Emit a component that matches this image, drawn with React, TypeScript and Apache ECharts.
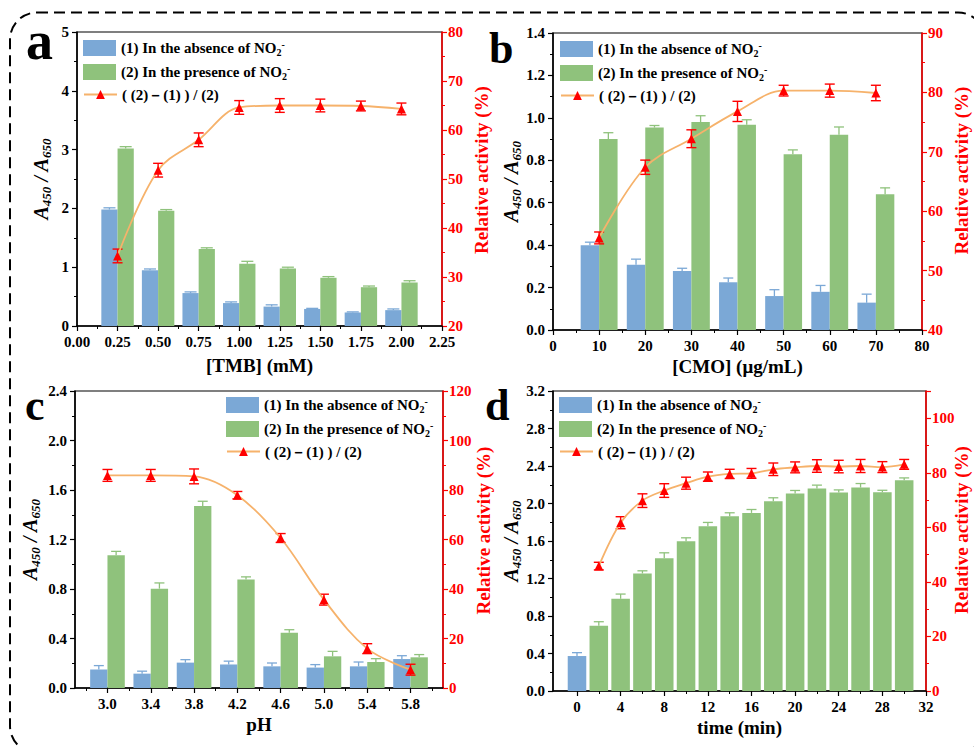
import React, { useEffect, useRef } from 'react';
import * as echarts from 'echarts';

const SERIF = '"Liberation Serif", "Times New Roman", serif';
const BLUE = '#7ba8d6';
const GREEN = '#8fc27c';
const RED = '#ff0000';
const ORANGE = '#f6b26b';

const NAME_ABS = '(1) In the absence of NO2-';
const NAME_PRE = '(2) In the presence of NO2-';
const NAME_RATIO = '( (2)－(1) ) / (2)';

// ---- Panel a: TMB ----
const tmbX = [0.25, 0.5, 0.75, 1.0, 1.25, 1.5, 1.75, 2.0];
const tmbAbsence = [1.98, 0.95, 0.56, 0.39, 0.33, 0.29, 0.23, 0.27];
const tmbAbsenceErr = [0.03, 0.02, 0.02, 0.02, 0.03, 0.01, 0.01, 0.02];
const tmbPresence = [3.02, 1.96, 1.31, 1.06, 0.98, 0.82, 0.66, 0.74];
const tmbPresenceErr = [0.03, 0.02, 0.02, 0.04, 0.02, 0.02, 0.02, 0.03];
const tmbActivity = [34.3, 51.8, 58.0, 64.6, 65.0, 65.0, 64.9, 64.3];
const tmbActivityErr = [1.4, 1.4, 1.4, 1.4, 1.4, 1.3, 1.0, 1.2];

// ---- Panel b: CMO ----
const cmoX = [10, 20, 30, 40, 50, 60, 70];
const cmoAbsence = [0.4, 0.307, 0.278, 0.225, 0.16, 0.18, 0.129];
const cmoAbsenceErr = [0.014, 0.027, 0.013, 0.02, 0.03, 0.03, 0.04];
const cmoPresence = [0.9, 0.954, 0.98, 0.967, 0.829, 0.92, 0.64];
const cmoPresenceErr = [0.03, 0.01, 0.03, 0.024, 0.02, 0.037, 0.03];
const cmoActivity = [55.5, 67.4, 72.2, 76.8, 80.3, 80.3, 79.9];
const cmoActivityErr = [1.0, 1.2, 1.5, 1.7, 0.9, 1.1, 1.3];

// ---- Panel c: pH ----
const phX = [3.0, 3.4, 3.8, 4.2, 4.6, 5.0, 5.4, 5.8];
const phTicks = [3.0, 3.4, 3.8, 4.2, 4.6, 5.0, 5.4, 5.8];
const phMinorTicks = [2.8, 3.2, 3.6, 4.0, 4.4, 4.8, 5.2, 5.6, 6.0];
const phAbsence = [0.149, 0.116, 0.205, 0.19, 0.175, 0.165, 0.175, 0.234];
const phAbsenceErr = [0.032, 0.02, 0.024, 0.027, 0.027, 0.024, 0.035, 0.027];
const phPresence = [1.072, 0.803, 1.471, 0.876, 0.447, 0.256, 0.21, 0.248];
const phPresenceErr = [0.032, 0.046, 0.038, 0.022, 0.024, 0.04, 0.027, 0.022];
const phActivity = [85.9, 85.9, 85.5, 77.9, 60.6, 35.7, 15.9, 7.4];
const phActivityErr = [2.4, 2.4, 3.0, 1.5, 1.8, 2.2, 2.0, 2.2];

// ---- Panel d: time ----
const timeTicks = [0, 4, 8, 12, 16, 20, 24, 28, 32];
const timeMinorTicks = [2, 6, 10, 14, 18, 22, 26, 30];
const timeAbsX = [0];
const timeAbsence = [0.373];
const timeAbsenceErr = [0.036];
const timeX = [2, 4, 6, 8, 10, 12, 14, 16, 18, 20, 22, 24, 26, 28, 30];
const timePresence = [0.696, 0.984, 1.254, 1.417, 1.598, 1.758, 1.865, 1.9, 2.025, 2.107, 2.16, 2.117, 2.17, 2.12, 2.248];
const timePresenceErr = [0.043, 0.05, 0.028, 0.057, 0.036, 0.04, 0.036, 0.036, 0.036, 0.032, 0.036, 0.028, 0.043, 0.021, 0.025];
const timeActivity = [45.8, 61.7, 69.8, 73.5, 76.2, 78.6, 79.6, 79.8, 81.3, 82.0, 82.5, 82.3, 82.5, 82.1, 83.1];
const timeActivityErr = [1.4, 2.2, 2.5, 2.5, 2.2, 1.7, 1.7, 1.8, 2.3, 2.0, 2.3, 2.3, 2.4, 2.0, 1.8];

const GRIDS = [
  { left: 77, top: 32, width: 365, height: 294 },
  { left: 553, top: 33, width: 369, height: 297 },
  { left: 75, top: 391, width: 368, height: 297 },
  { left: 553, top: 391, width: 373, height: 300 },
];

const labelBlack = { color: '#000', fontFamily: SERIF, fontWeight: 'bold', fontSize: 15 };

const nameRich = {
  i: { fontFamily: SERIF, fontStyle: 'italic', fontWeight: 'bold', fontSize: 20, color: '#000', lineHeight: 24 },
  s: { fontFamily: SERIF, fontStyle: 'italic', fontWeight: 'bold', fontSize: 13, color: '#000', verticalAlign: 'bottom', lineHeight: 10 },
};

const legendRich = {
  t: { fontFamily: SERIF, fontWeight: 'bold', fontSize: 15, color: '#000', lineHeight: 18 },
  sub: { fontFamily: SERIF, fontWeight: 'bold', fontSize: 10, color: '#000', verticalAlign: 'bottom', lineHeight: 8 },
  sup: { fontFamily: SERIF, fontWeight: 'bold', fontSize: 10, color: '#000', verticalAlign: 'top', lineHeight: 8 },
};

const legendFormatter = (name: string) => {
  if (name === NAME_ABS) return '{t|(1) In the absence of NO}{sub|2}{sup|-}';
  if (name === NAME_PRE) return '{t|(2) In the presence of NO}{sub|2}{sup|-}';
  return '{t|' + name + '}';
};

function fmt(d: number) {
  return (v: number) => Number(v).toFixed(d);
}

function xAxisCfg(grid: number, min: number, max: number, extra: any, name: string, nameGap: number) {
  return {
    type: 'value', gridIndex: grid, position: 'bottom', min, max,
    name, nameLocation: 'middle', nameGap, nameMoveOverlap: false,
    nameTextStyle: { fontFamily: SERIF, fontWeight: 'bold', fontSize: 19, color: '#000' },
    axisLine: { show: true, onZero: false, lineStyle: { color: '#000', width: 1.5 } },
    axisTick: { show: true, length: 5, lineStyle: { color: '#000', width: 1.2 } },
    minorTick: { show: true, splitNumber: 2, length: 3, lineStyle: { color: '#000', width: 1 } },
    axisLabel: { ...labelBlack, margin: 8 },
    splitLine: { show: false },
    ...extra,
  };
}

function minorXAxis(grid: number, min: number, max: number, values: number[]) {
  return {
    type: 'value', gridIndex: grid, position: 'bottom', min, max,
    axisLine: { show: false },
    axisLabel: { show: false },
    splitLine: { show: false },
    axisTick: { show: true, length: 3, customValues: values, lineStyle: { color: '#000', width: 1 } },
  };
}

function leftY(grid: number, min: number, max: number, interval: number, digits: number, nameGap: number) {
  return {
    type: 'value', gridIndex: grid, position: 'left', min, max, interval,
    name: '{i|A}{s|450}{i| / A}{s|650}', nameLocation: 'middle', nameGap, nameMoveOverlap: false,
    nameTextStyle: { rich: nameRich },
    axisLine: { show: true, onZero: false, lineStyle: { color: '#000', width: 1.5 } },
    axisTick: { show: true, length: 5, lineStyle: { color: '#000', width: 1.2 } },
    minorTick: { show: true, splitNumber: 2, length: 3, lineStyle: { color: '#000', width: 1 } },
    axisLabel: { ...labelBlack, margin: 8, formatter: fmt(digits) },
    splitLine: { show: false },
  };
}

function rightY(grid: number, min: number, max: number, interval: number, nameGap: number, shift: number, extraLabel: any = {}) {
  return {
    type: 'value', gridIndex: grid, position: 'right', min, max, interval,
    name: 'Relative activity (%)', nameLocation: 'middle', nameGap, nameMoveOverlap: false,
    nameTextStyle: { fontFamily: SERIF, fontWeight: 'bold', fontSize: 19, color: RED, padding: [0, 0, 0, shift] },
    axisLine: { show: true, onZero: false, lineStyle: { color: RED, width: 1.5 } },
    axisTick: { show: true, length: 5, lineStyle: { color: RED, width: 1.2 } },
    minorTick: { show: true, splitNumber: 2, length: 3, lineStyle: { color: RED, width: 1 } },
    axisLabel: { color: RED, fontFamily: SERIF, fontWeight: 'bold', fontSize: 15, margin: 6, ...extraLabel },
    splitLine: { show: false },
  };
}

function barRender(from: number, to: number, color: string, capHalf: number) {
  return (params: any, api: any) => {
    const x = api.value(0);
    const y = api.value(1);
    const e = api.value(2);
    const p0 = api.coord([x + from, 0]);
    const p1 = api.coord([x + to, y]);
    const pe = api.coord([x + (from + to) / 2, y + e]);
    const top = p1[1];
    const cx = (p0[0] + p1[0]) / 2;
    return {
      type: 'group',
      children: [
        { type: 'rect', shape: { x: p0[0], y: top, width: p1[0] - p0[0], height: p0[1] - top }, style: { fill: color } },
        { type: 'line', shape: { x1: cx, y1: top, x2: cx, y2: pe[1] }, style: { stroke: color, lineWidth: 1.3 } },
        { type: 'line', shape: { x1: cx - capHalf, y1: pe[1], x2: cx + capHalf, y2: pe[1] }, style: { stroke: color, lineWidth: 1.3 } },
      ],
    };
  };
}

function errRender(capHalf: number) {
  return (params: any, api: any) => {
    const x = api.value(0);
    const y = api.value(1);
    const e = api.value(2);
    const lo = api.coord([x, y - e]);
    const hi = api.coord([x, y + e]);
    const st = { stroke: RED, lineWidth: 1.4 };
    return {
      type: 'group',
      children: [
        { type: 'line', shape: { x1: lo[0], y1: lo[1], x2: hi[0], y2: hi[1] }, style: st },
        { type: 'line', shape: { x1: lo[0] - capHalf, y1: lo[1], x2: lo[0] + capHalf, y2: lo[1] }, style: st },
        { type: 'line', shape: { x1: hi[0] - capHalf, y1: hi[1], x2: hi[0] + capHalf, y2: hi[1] }, style: st },
      ],
    };
  };
}

function triple(xs: number[], ys: number[], es: number[]) {
  return xs.map((v, i) => [v, ys[i], es[i]]);
}

function barSeries(name: string, xi: number, yi: number, xs: number[], ys: number[], es: number[], from: number, to: number, color: string, cap: number) {
  return {
    type: 'custom', name, coordinateSystem: 'cartesian2d', xAxisIndex: xi, yAxisIndex: yi,
    itemStyle: { color }, z: 2,
    encode: { x: 0, y: 1 },
    renderItem: barRender(from, to, color, cap),
    data: triple(xs, ys, es),
  };
}

function lineSeries(xi: number, yi: number, xs: number[], ys: number[], es: number[]) {
  return [
    {
      type: 'custom', name: NAME_RATIO + ' err', coordinateSystem: 'cartesian2d', xAxisIndex: xi, yAxisIndex: yi,
      z: 3, encode: { x: 0, y: 1 }, renderItem: errRender(5), data: triple(xs, ys, es),
    },
    {
      type: 'line', name: NAME_RATIO, xAxisIndex: xi, yAxisIndex: yi, z: 4,
      smooth: 0.35, symbol: 'triangle', symbolSize: 9,
      itemStyle: { color: RED },
      lineStyle: { color: ORANGE, width: 1.8 },
      data: xs.map((v, i) => [v, ys[i]]),
    },
  ];
}

function barLegend(left: number, top: number) {
  return {
    show: true, orient: 'vertical', left, top, padding: 0, itemWidth: 33, itemHeight: 16, itemGap: 6,
    selectedMode: false, formatter: legendFormatter,
    textStyle: { fontFamily: SERIF, fontWeight: 'bold', fontSize: 15, color: '#000', rich: legendRich },
    data: [{ name: NAME_ABS, icon: 'rect' }, { name: NAME_PRE, icon: 'rect' }],
  };
}

function lineLegend(left: number, top: number) {
  return {
    show: true, orient: 'vertical', left, top, padding: 0, itemWidth: 33, itemHeight: 11,
    selectedMode: false, formatter: legendFormatter,
    textStyle: { fontFamily: SERIF, fontWeight: 'bold', fontSize: 15, color: '#000', rich: legendRich },
    data: [{ name: NAME_RATIO }],
  };
}

function letter(t: string, x: number, baseline: number, fs: number) {
  return {
    type: 'text', x, y: baseline - 0.34 * fs,
    style: { text: t, fontFamily: SERIF, fontWeight: 'bold', fontSize: fs, fill: '#000', align: 'left', verticalAlign: 'middle' },
  };
}

function buildOption() {
  const grids = GRIDS.map((g) => ({ ...g, show: true, borderColor: '#000', borderWidth: 1.2, backgroundColor: 'transparent', containLabel: false, outerBoundsMode: 'none' }));

  const xAxes = [
    xAxisCfg(0, 0, 2.25, { interval: 0.25, axisLabel: { ...labelBlack, margin: 8, formatter: fmt(2) } }, '[TMB] (mM)', 30),
    xAxisCfg(1, 0, 80, { interval: 10 }, '[CMO] (μg/mL)', 27),
    xAxisCfg(2, 2.7, 6.1, {
      minorTick: { show: false },
      axisTick: { show: true, length: 5, customValues: phTicks, lineStyle: { color: '#000', width: 1.2 } },
      axisLabel: { ...labelBlack, margin: 8, customValues: phTicks, formatter: fmt(1) },
    }, 'pH', 27),
    xAxisCfg(3, -2.2, 32, {
      minorTick: { show: false },
      axisTick: { show: true, length: 5, customValues: timeTicks, lineStyle: { color: '#000', width: 1.2 } },
      axisLabel: { ...labelBlack, margin: 8, customValues: timeTicks },
    }, 'time (min)', 27),
    minorXAxis(2, 2.7, 6.1, phMinorTicks),
    minorXAxis(3, -2.2, 32, timeMinorTicks),
  ];

  const yAxes = [
    leftY(0, 0, 5, 1, 0, 24),
    rightY(0, 20, 80, 10, 30, 18),
    leftY(1, 0, 1.4, 0.2, 1, 30),
    rightY(1, 40, 90, 10, 30, 22),
    leftY(2, 0, 2.4, 0.4, 1, 33),
    rightY(2, 0, 120, 20, 31, 18),
    leftY(3, 0, 3.2, 0.4, 1, 30),
    rightY(3, 0, 110, 20, 26, 22, { showMaxLabel: false }),
  ];

  const series: any[] = [
    barSeries(NAME_ABS, 0, 0, tmbX, tmbAbsence, tmbAbsenceErr, -0.1, 0, BLUE, 6),
    barSeries(NAME_PRE, 0, 0, tmbX, tmbPresence, tmbPresenceErr, 0, 0.1, GREEN, 6),
    ...lineSeries(0, 1, tmbX, tmbActivity, tmbActivityErr),

    barSeries(NAME_ABS, 1, 2, cmoX, cmoAbsence, cmoAbsenceErr, -4, 0, BLUE, 5),
    barSeries(NAME_PRE, 1, 2, cmoX, cmoPresence, cmoPresenceErr, 0, 4, GREEN, 5),
    ...lineSeries(1, 3, cmoX, cmoActivity, cmoActivityErr),

    barSeries(NAME_ABS, 2, 4, phX, phAbsence, phAbsenceErr, -0.16, 0, BLUE, 5),
    barSeries(NAME_PRE, 2, 4, phX, phPresence, phPresenceErr, 0, 0.16, GREEN, 5),
    ...lineSeries(2, 5, phX, phActivity, phActivityErr),

    barSeries(NAME_ABS, 3, 6, timeAbsX, timeAbsence, timeAbsenceErr, -0.85, 0.85, BLUE, 5),
    barSeries(NAME_PRE, 3, 6, timeX, timePresence, timePresenceErr, -0.85, 0.85, GREEN, 5),
    ...lineSeries(3, 7, timeX, timeActivity, timeActivityErr),
  ];

  return {
    animation: false,
    backgroundColor: '#fff',
    grid: grids,
    xAxis: xAxes,
    yAxis: yAxes,
    legend: [
      barLegend(83, 39), lineLegend(83, 87),
      barLegend(560, 40), lineLegend(560, 88),
      barLegend(226, 396), lineLegend(226, 444),
      barLegend(559, 396), lineLegend(559, 444),
    ],
    graphic: [
      {
        type: 'rect', z: 100, silent: true,
        shape: { x: 10, y: 12.5, width: 975, height: 740.5, r: 27 },
        style: { fill: 'none', stroke: '#000', lineWidth: 2, lineDash: [11, 6] },
      },
      letter('a', 26, 59, 54),
      letter('b', 489, 63, 44),
      letter('c', 25, 420, 44),
      letter('d', 485, 420, 44),
    ],
    series,
  };
}

export default function App() {
  const ref = useRef<HTMLDivElement>(null);
  useEffect(() => {
    if (!ref.current) return;
    const chart = echarts.init(ref.current, null, { renderer: 'svg' });
    chart.setOption(buildOption() as any);
    return () => chart.dispose();
  }, []);
  return <div ref={ref} style={{ position: 'absolute', left: 0, top: 0, width: 974, height: 747 }} />;
}
